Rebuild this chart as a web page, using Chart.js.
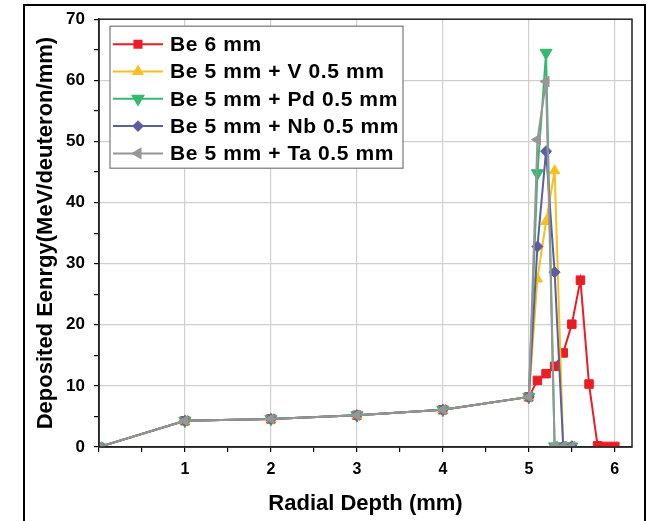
<!DOCTYPE html>
<html>
<head>
<meta charset="utf-8">
<script src="https://cdn.jsdelivr.net/npm/chart.js@4.4.1/dist/chart.umd.min.js"></script>
<style>
  html, body { margin: 0; padding: 0; background: #fff; }
</style>
</head>
<body>
<canvas id="depth_chart" width="657" height="521"></canvas>
<script>
// radial depth (mm) and deposited energy
depthBe6 = [0, 1, 2, 3, 4, 5, 5.1, 5.2, 5.3, 5.4, 5.5, 5.6, 5.7, 5.8, 5.9, 6.0]
energyBe6 = [0, 4.3, 4.6, 5.2, 6.1, 8.2, 10.9, 12.0, 13.2, 15.4, 20.1, 27.3, 10.3, 0.2, 0.1, 0.1]

depthLayer = [0, 1, 2, 3, 4, 5, 5.1, 5.2, 5.3, 5.4, 5.5]
energyV  = [0, 4.3, 4.6, 5.2, 6.1, 8.2, 27.5, 36.9, 45.2, 0.1, 0.1]
energyPd = [0, 4.3, 4.6, 5.2, 6.1, 8.2, 44.8, 64.5, 0.1, 0.1, 0.1]
energyNb = [0, 4.3, 4.6, 5.2, 6.1, 8.2, 32.8, 48.4, 28.6, 0.1, 0.1]
energyTa = [0, 4.3, 4.6, 5.2, 6.1, 8.2, 50.3, 59.8, 0.1, 0.1, 0.1]

seriesLabels = ['Be 6 mm', 'Be 5 mm + V 0.5 mm', 'Be 5 mm + Pd 0.5 mm', 'Be 5 mm + Nb 0.5 mm', 'Be 5 mm + Ta 0.5 mm']
seriesColors = ['rgb(236, 28, 36)', 'rgb(247, 192, 30)', 'rgb(52, 185, 110)', 'rgb(92, 94, 160)', 'rgb(150, 150, 150)']
seriesStyles = ['rect', 'triangle', 'triangle', 'rectRot', 'triangle']
seriesRotation = [0, 0, 180, 0, -90]
seriesRadius = [6, 6, 7, 5.5, 6]

fontFam = 'Arial, "Liberation Sans", sans-serif'

function toPoints(xs, ys) {
  return xs.map(function (x, i) { return { x: x, y: ys[i] }; });
}

allX = [depthBe6, depthLayer, depthLayer, depthLayer, depthLayer]
allY = [energyBe6, energyV, energyPd, energyNb, energyTa]
drawOrder = [4, 3, 2, 1, 0]

datasets = seriesLabels.map(function (lbl, i) {
  return {
    label: lbl,
    data: toPoints(allX[i], allY[i]),
    borderColor: seriesColors[i],
    backgroundColor: seriesColors[i],
    borderWidth: 2,
    pointStyle: seriesStyles[i],
    rotation: seriesRotation[i],
    pointRadius: seriesRadius[i],
    pointBorderWidth: 1,
    tension: 0,
    order: drawOrder[i]
  };
});

// outer frame, plot box and the legend inside the plot
framePlugin = {
  id: 'framePlugin',
  afterDraw: function (chart) {
    var ctx = chart.ctx, a = chart.chartArea;
    ctx.save();
    ctx.strokeStyle = '#000';
    ctx.lineWidth = 2;
    ctx.strokeRect(24, 5, 621, 540);
    ctx.lineWidth = 1.5;
    ctx.strokeStyle = '#222';
    ctx.strokeRect(a.left, a.top, a.right - a.left, a.bottom - a.top);

    var lx = a.left + 11, ly = a.top + 7, lw = 293, lh = 142;
    ctx.fillStyle = '#fff';
    ctx.fillRect(lx, ly, lw, lh);
    ctx.strokeStyle = '#777';
    ctx.lineWidth = 1.2;
    ctx.strokeRect(lx, ly, lw, lh);

    ctx.font = 'bold 21px ' + fontFam;
    ctx.letterSpacing = '0.6px';
    ctx.textBaseline = 'middle';
    ctx.textAlign = 'left';
    for (var i = 0; i < seriesLabels.length; i++) {
      var cy = ly + 18 + i * 27.3;
      ctx.strokeStyle = seriesColors[i];
      ctx.fillStyle = seriesColors[i];
      ctx.lineWidth = 2;
      ctx.beginPath();
      ctx.moveTo(lx + 3, cy);
      ctx.lineTo(lx + 53, cy);
      ctx.stroke();
      Chart.helpers.drawPoint(ctx, {
        pointStyle: seriesStyles[i],
        rotation: seriesRotation[i],
        radius: seriesRadius[i] - 1,
        borderWidth: 1
      }, lx + 28, cy);
      ctx.fillStyle = '#000';
      ctx.fillText(seriesLabels[i], lx + 60, cy + 1);
    }
    ctx.restore();
  }
};

config = {
  type: 'line',
  data: { datasets: datasets },
  plugins: [framePlugin],
  options: {
    responsive: false,
    animation: false,
    devicePixelRatio: 1,
    layout: { padding: { left: 24, top: 18, right: 25, bottom: 0 } },
    plugins: {
      legend: { display: false },
      tooltip: { enabled: false }
    },
    scales: {
      x: {
        type: 'linear',
        min: 0,
        max: 6.2,
        afterFit: function (s) { s.height = 74; },
        ticks: {
          stepSize: 0.5,
          includeBounds: false,
          autoSkip: false,
          maxRotation: 0,
          color: '#000',
          padding: 8,
          font: { family: fontFam, size: 16, weight: 'bold' },
          callback: function (v) { return (v > 0 && v % 1 === 0) ? v : ''; }
        },
        grid: {
          color: function (c) { var v = c.tick && c.tick.value; return (v > 0 && v % 1 === 0) ? '#cfcfcf' : 'rgba(0,0,0,0)'; },
          tickColor: '#000',
          tickLength: 5,
          lineWidth: 1.2
        },
        border: { color: '#222', width: 1.5 },
        title: {
          display: true,
          text: 'Radial Depth (mm)',
          color: '#000',
          font: { family: fontFam, size: 22, weight: 'bold' },
          padding: { top: 0, bottom: 4 }
        }
      },
      y: {
        min: 0,
        max: 70,
        afterFit: function (s) { s.width = 75; },
        ticks: {
          stepSize: 5,
          autoSkip: false,
          color: '#000',
          padding: 9,
          font: { family: fontFam, size: 17, weight: 'bold' },
          callback: function (v) { return v % 10 === 0 ? v : ''; }
        },
        grid: {
          color: function (c) { var v = c.tick && c.tick.value; return (v > 0 && v < 70 && v % 10 === 0) ? '#cfcfcf' : 'rgba(0,0,0,0)'; },
          tickColor: '#000',
          tickLength: 5,
          lineWidth: 1.2
        },
        border: { color: '#222', width: 1.5 },
        title: {
          display: true,
          text: 'Deposited Eenrgy(MeV/deuteron/mm)',
          color: '#000',
          font: { family: fontFam, size: 22, weight: 'bold' },
          padding: { top: 9, bottom: 0 }
        }
      }
    }
  }
};

var myChart = new Chart(document.getElementById('depth_chart'), config);
</script>
</body>
</html>
